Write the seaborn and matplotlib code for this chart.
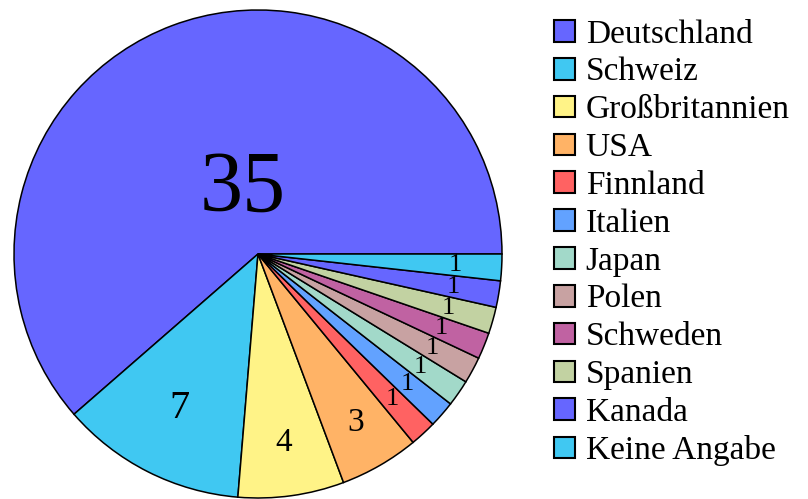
import numpy as np
import matplotlib
matplotlib.use("Agg")
import matplotlib.pyplot as plt
import matplotlib.patches as mpatches
import seaborn as sns

countries = ["Deutschland", "Schweiz", "Großbritannien", "USA", "Finnland",
             "Italien", "Japan", "Polen", "Schweden", "Spanien", "Kanada",
             "Keine Angabe"]
counts = [35, 7, 4, 3, 1, 1, 1, 1, 1, 1, 1, 1]
colors = ["#6666ff", "#40c8f2", "#fff387", "#ffb366", "#ff6262", "#62a2ff",
          "#a2d9c9", "#c8a2a2", "#c062a2", "#c2d2a2", "#6666ff", "#40c8f2"]

# label placement (fraction of radius) and size, per wedge
label_dist = [0.28, 0.71, 0.78, 0.80] + [0.81] * 8
label_size = [62, 29, 24, 24] + [19] * 8

sns.set_style("white")
plt.rcParams["font.family"] = ["Liberation Serif", "DejaVu Serif"]
plt.rcParams["text.color"] = "black"

fig = plt.figure(figsize=(8.08, 4.99), dpi=100)
ax = fig.add_axes([14 / 808, 1 / 499, 488 / 808, 488 / 499])

wedges, _ = ax.pie(counts, colors=colors, startangle=0, counterclock=True,
                   radius=1.0,
                   wedgeprops=dict(edgecolor="black", linewidth=1.1))
ax.set_xlim(-1, 1)
ax.set_ylim(-1, 1)
ax.set_aspect("equal")
ax.axis("off")

for i, (w, n, d, fs) in enumerate(zip(wedges, counts, label_dist, label_size)):
    mid = np.deg2rad((w.theta1 + w.theta2) / 2)
    x, y = d * np.cos(mid), d * np.sin(mid)
    if i == 0:
        x += 0.035  # big label sits a little right of the bisector
    ax.text(x, y, str(n), ha="center", va="center", fontsize=fs,
            color="black")

handles = [mpatches.Patch(facecolor=c, edgecolor="black", linewidth=1.5,
                          label=l) for c, l in zip(colors, countries)]
fig.legend(handles=handles, loc="upper left", bbox_to_anchor=(0.677, 0.975),
           frameon=False, fontsize=24, handlelength=0.63, handleheight=0.63,
           handletextpad=0.33, labelspacing=0.22, borderaxespad=0.0,
           borderpad=0.2, labelcolor="black")

fig.savefig("out.png", dpi=100)
